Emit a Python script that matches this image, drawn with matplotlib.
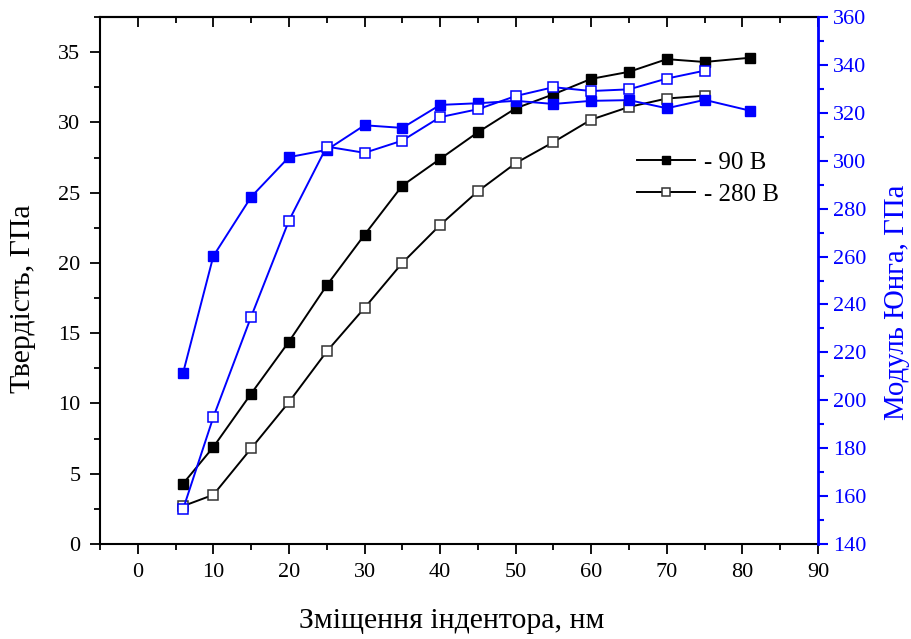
import matplotlib
matplotlib.use("Agg")
import matplotlib.pyplot as plt
from matplotlib.ticker import MultipleLocator

plt.rcParams['font.family'] = ['Liberation Serif', 'DejaVu Serif']
plt.rcParams['mathtext.fontset'] = 'stix'

# indentation depth, nm
depth_90 = [6, 10, 15, 20, 25, 30, 35, 40, 45, 50, 55, 60, 65, 70, 75, 81]
depth_280 = [6, 10, 15, 20, 25, 30, 35, 40, 45, 50, 55, 60, 65, 70, 75]

# hardness, GPa
hard_90 = [4.3, 6.9, 10.7, 14.4, 18.4, 22.0, 25.5, 27.4, 29.3, 31.0, 32.0,
           33.1, 33.6, 34.5, 34.3, 34.6]
hard_280 = [2.7, 3.5, 6.8, 10.1, 13.7, 16.8, 20.0, 22.7, 25.1, 27.1, 28.6,
            30.2, 31.1, 31.7, 31.9]

# Young's modulus, GPa
mod_90 = [211.5, 260.2, 284.9, 301.5, 304.5, 314.8, 313.7, 323.3, 324.0,
          325.0, 323.7, 325.0, 325.3, 321.9, 325.4, 320.9]
mod_280 = [154.6, 193.0, 234.9, 275.0, 305.9, 303.3, 308.4, 318.2, 321.5,
           327.0, 330.7, 329.1, 329.8, 334.3, 337.6]

legend_labels = ['- 90 В', '- 280 В']

BLUE = '#0000ff'
fig = plt.figure(figsize=(9.11, 6.39), dpi=100)
ax = fig.add_axes([100 / 911, 1 - 544 / 639, 718 / 911, 527 / 639])

lw = 1.4
ms = 7.2
l1, = ax.plot(depth_90, hard_90, color='black', lw=lw, marker='s', ms=ms,
              mfc='black', mec='black', label=legend_labels[0])
l2, = ax.plot(depth_280, hard_280, color='black', lw=lw, marker='s', ms=ms,
              mfc='white', mec='#333333', mew=1.1, label=legend_labels[1])

ax.set_xlim(-5, 90)
ax.set_ylim(0, 37.5)
ax.xaxis.set_major_locator(MultipleLocator(10))
ax.xaxis.set_minor_locator(MultipleLocator(5))
ax.yaxis.set_major_locator(MultipleLocator(5))
ax.yaxis.set_minor_locator(MultipleLocator(2.5))
ax.tick_params(which='both', direction='out', width=1.3, labelsize=16,
               top=False, right=False, pad=7)
ax.tick_params(which='major', length=7)
ax.tick_params(which='minor', length=4)
for side in ('left', 'bottom', 'top'):
    ax.spines[side].set_linewidth(1.5)
ax.set_xlabel('Зміщення індентора, нм', fontsize=21.5)
ax.set_ylabel('Твердість, ГПа', fontsize=21.5)
ax.xaxis.set_label_coords(0.49, -0.121)
ax.yaxis.set_label_coords(-0.089, 0.465)

# inward ticks along the top edge
top = ax.secondary_xaxis('top')
top.xaxis.set_major_locator(MultipleLocator(10))
top.xaxis.set_minor_locator(MultipleLocator(5))
top.tick_params(which='both', direction='in', width=1.3, labeltop=False)
top.tick_params(which='major', length=7)
top.tick_params(which='minor', length=4)
top.spines['top'].set_linewidth(1.5)

ax2 = ax.twinx()
ax2.plot(depth_90, mod_90, color=BLUE, lw=lw, marker='s', ms=ms,
         mfc=BLUE, mec=BLUE)
ax2.plot(depth_280, mod_280, color=BLUE, lw=lw, marker='s', ms=ms,
         mfc='white', mec=BLUE, mew=1.1)
ax2.set_ylim(140, 360)
ax2.yaxis.set_major_locator(MultipleLocator(20))
ax2.yaxis.set_minor_locator(MultipleLocator(10))
ax2.tick_params(which='both', direction='out', width=1.5, color=BLUE,
                labelcolor=BLUE, labelsize=16, pad=4)
ax2.tick_params(which='major', length=7)
ax2.tick_params(which='minor', length=4)
ax2.spines['right'].set_color(BLUE)
ax2.spines['right'].set_linewidth(2)
ax2.spines['left'].set_visible(False)
ax2.spines['top'].set_visible(False)
ax2.spines['bottom'].set_visible(False)
ax2.set_ylabel('Модуль Юнга, ГПа', fontsize=20.8, color=BLUE)
ax2.yaxis.set_label_coords(1.092, 0.459)

ax.legend(handles=[l1, l2], loc='upper left', bbox_to_anchor=(0.717, 0.788),
          frameon=False, fontsize=18, handlelength=2.3, handletextpad=0.35,
          labelspacing=0.4, markerscale=0.75)

fig.savefig('out.png', dpi=100)
